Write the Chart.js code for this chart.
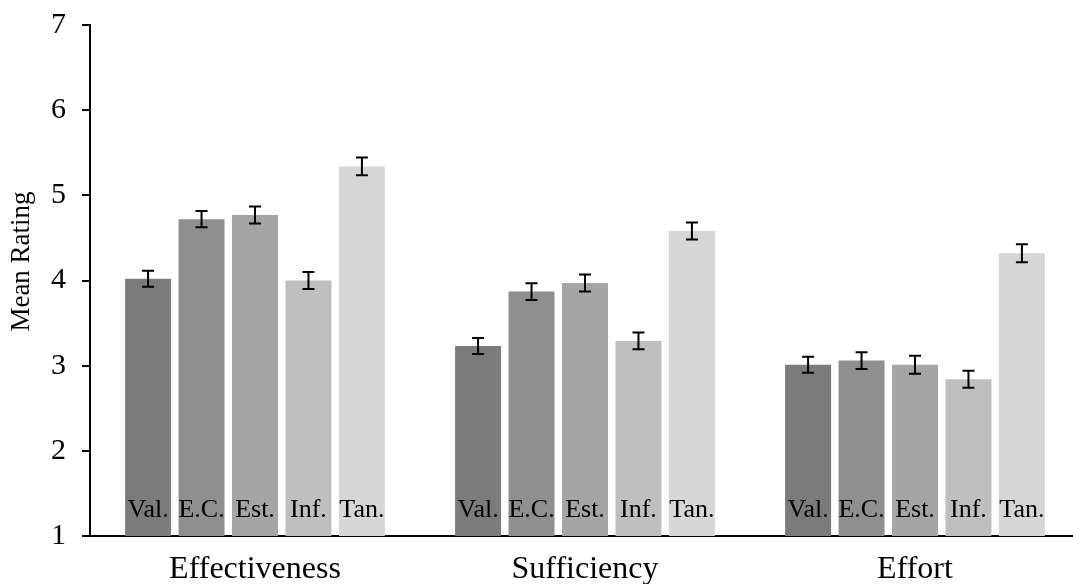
<!DOCTYPE html>
<html>
<head>
<meta charset="utf-8">
<script src="https://cdn.jsdelivr.net/npm/chart.js@4"></script>
<style>
  html, body { margin:0; padding:0; background:#fff; overflow:hidden; }
  #box { width:1085px; height:584px; }
</style>
</head>
<body>
<div id="box"><canvas id="grafico"></canvas></div>
<script>
const categorias = ["Effectiveness", "Sufficiency", "Effort"];
const rotulos = ["Val.", "E.C.", "Est.", "Inf.", "Tan."];
const cores = ["#7b7b7b", "#8f8f8f", "#a5a5a5", "#bfbfbf", "#d6d6d6"];
const tituloY = "Mean Rating";

const val = [4.02, 3.23, 3.01];
const ec  = [4.72, 3.87, 3.06];
const est = [4.77, 3.97, 3.01];
const inf = [4.00, 3.29, 2.84];
const tan = [5.34, 4.58, 4.32];

const errVal = [0.094, 0.094, 0.094];
const errEc  = [0.096, 0.098, 0.098];
const errEst = [0.10, 0.10, 0.105];
const errInf = [0.10, 0.098, 0.10];
const errTan = [0.105, 0.10, 0.105];

const series = [val, ec, est, inf, tan];
const erros = [errVal, errEc, errEst, errInf, errTan];

const fonte = "'Liberation Serif', 'Times New Roman', serif";

const extras = {
  id: "extras",
  afterDatasetsDraw(chart){
    const ctx = chart.ctx;
    const y = chart.scales.y;
    const area = chart.chartArea;
    ctx.save();
    chart.data.datasets.forEach((ds, i)=>{
      const meta = chart.getDatasetMeta(i);
      meta.data.forEach((bar, j)=>{
        const v = ds.data[j], e = erros[i][j];
        const t = y.getPixelForValue(v + e);
        const b = y.getPixelForValue(v - e);
        ctx.strokeStyle = "#000";
        ctx.lineWidth = 2;
        ctx.beginPath();
        ctx.moveTo(bar.x, t); ctx.lineTo(bar.x, b);
        ctx.moveTo(bar.x - 6, t); ctx.lineTo(bar.x + 6, t);
        ctx.moveTo(bar.x - 6, b); ctx.lineTo(bar.x + 6, b);
        ctx.stroke();

        ctx.fillStyle = "#000";
        ctx.font = "26px " + fonte;
        ctx.textAlign = "center";
        ctx.textBaseline = "alphabetic";
        ctx.fillText(ds.label, bar.x, y.getPixelForValue(1) - 19);
      });
    });

    // titulo do eixo y, um pouco acima do centro como no original
    ctx.translate(area.left - 61, (area.top + area.bottom) / 2 - 19);
    ctx.rotate(-Math.PI / 2);
    ctx.font = "27px " + fonte;
    ctx.textAlign = "center";
    ctx.textBaseline = "alphabetic";
    ctx.fillStyle = "#000";
    ctx.fillText(tituloY, 0, 0);
    ctx.restore();
  }
};

new Chart(document.getElementById("grafico"), {
  type: "bar",
  data: {
    labels: categorias,
    datasets: series.map((s, i)=>({
      label: rotulos[i],
      data: s,
      backgroundColor: cores[i],
      categoryPercentage: 0.81,
      barPercentage: 0.86
    }))
  },
  options: {
    responsive: true,
    maintainAspectRatio: false,
    animation: false,
    layout: { padding: { top: 25, right: 5, bottom: 0, left: 0 } },
    plugins: { legend: { display: false }, tooltip: { enabled: false } },
    scales: {
      x: {
        grid: { display: false, drawTicks: false },
        border: { display: true, color: "#000", width: 2 },
        ticks: { color: "#000", padding: 14, font: { family: fonte, size: 32 } },
        afterFit(scale){ scale.height = 48; }
      },
      y: {
        min: 1,
        max: 7,
        ticks: { stepSize: 1, color: "#000", padding: 16, font: { family: fonte, size: 30 } },
        grid: { drawOnChartArea: false, drawTicks: true, tickLength: 8, color: "#000", lineWidth: 2 },
        border: { display: true, color: "#000", width: 2 },
        afterFit(scale){
          scale.width = 90;
          scale.paddingTop = 0;
          scale.paddingBottom = 0;
        }
      }
    }
  },
  plugins: [extras]
});
</script>
</body>
</html>
